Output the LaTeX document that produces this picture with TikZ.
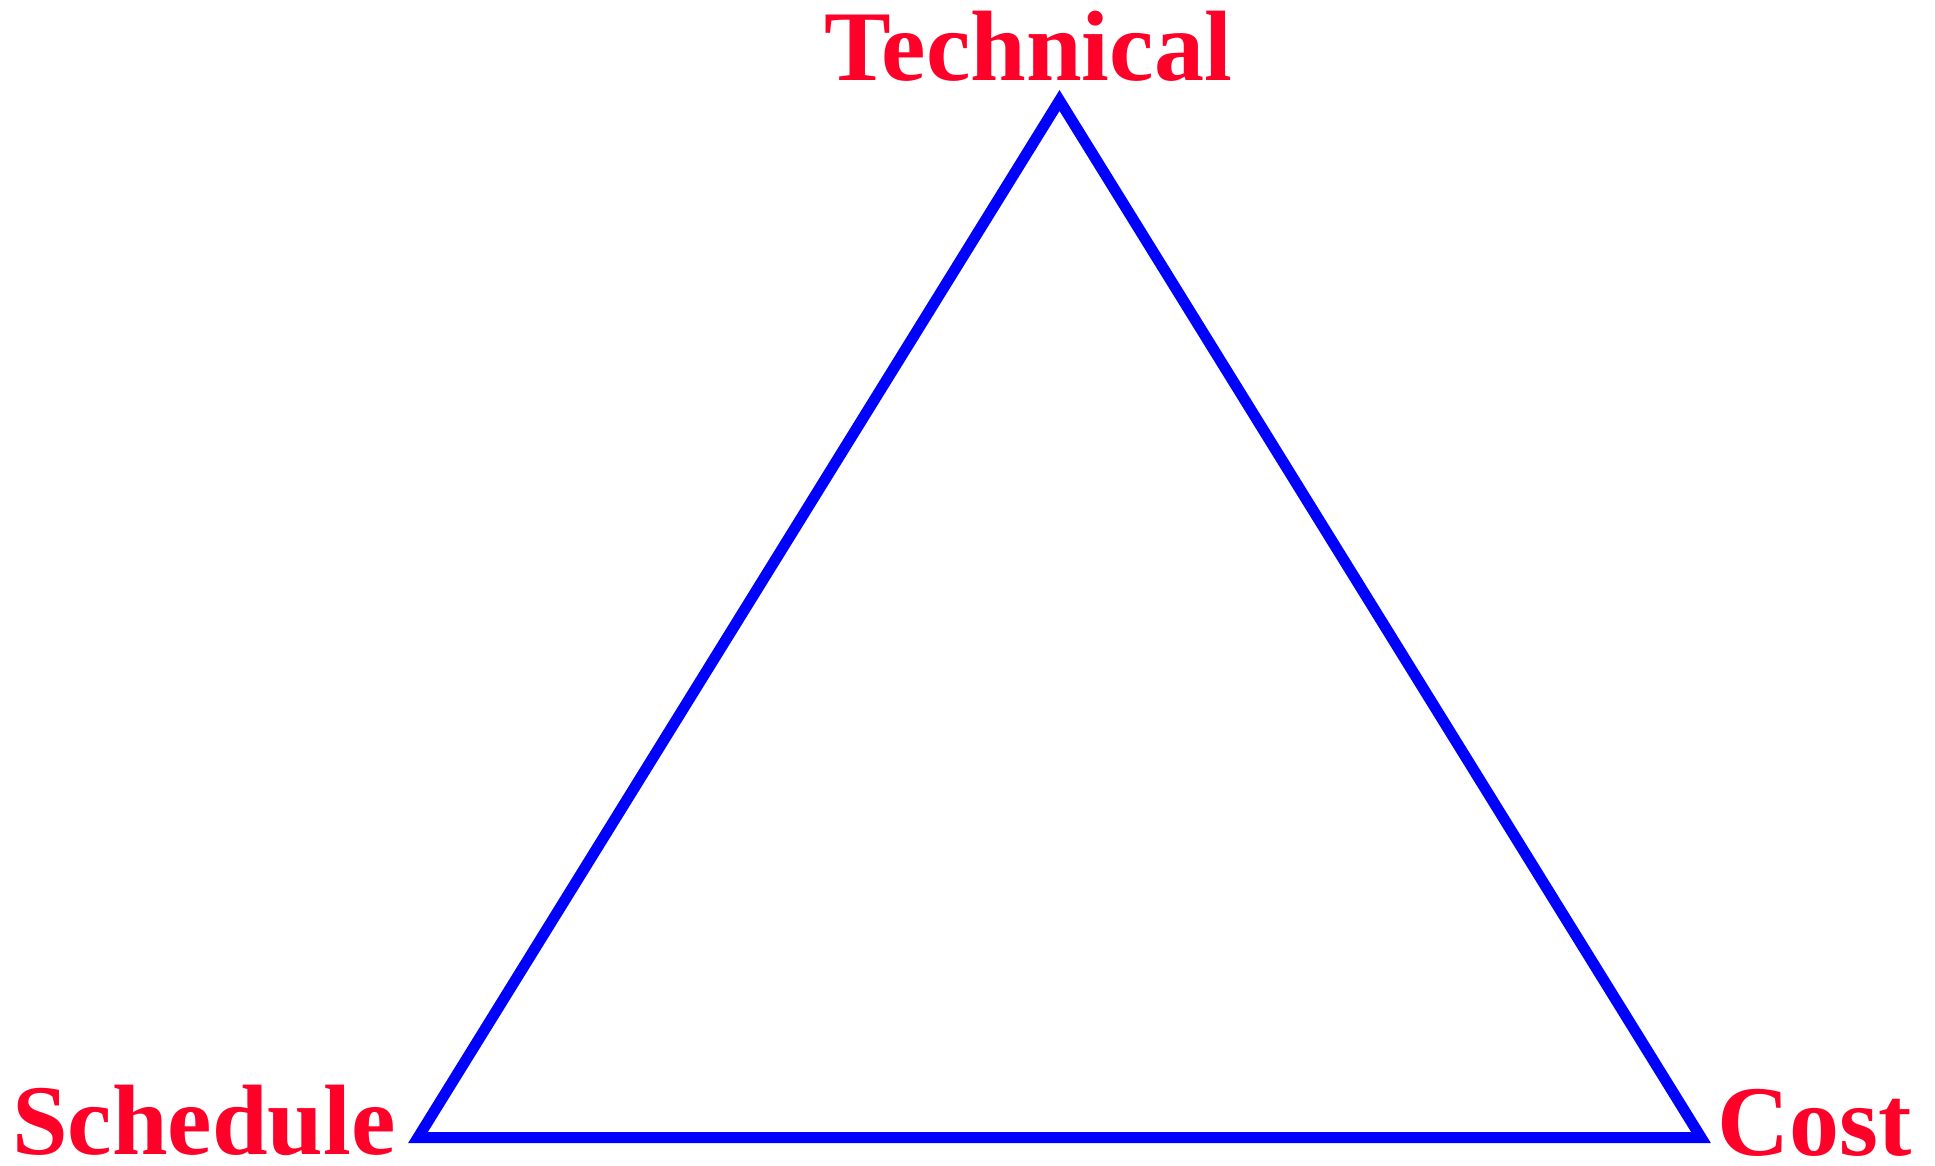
\documentclass[tikz,border=0pt]{standalone}
\usepackage{fontspec}
\setmainfont{Liberation Serif}
\definecolor{labelred}{RGB}{255,0,40}
\definecolor{triblue}{RGB}{0,0,255}
\tikzset{
  lbl/.style={inner sep=0pt, text=labelred, font=\fontsize{100}{100}\selectfont\bfseries, anchor=base west},
  tri/.style={draw=triblue, line width=11pt, line join=miter}
}
\begin{document}
\begin{tikzpicture}[x=1pt,y=-1pt]
\useasboundingbox (0,0) rectangle (1935,1165);
\coordinate (apex) at (1059.5,100.5);
\coordinate (bl) at (418,1137.5);
\coordinate (br) at (1701,1137.5);
\node[lbl] (technical) at (824,80) {Technical};
\node[lbl] (schedule) at (12,1154) {Schedule};
\node[lbl] (cost) at (1717,1155) {Cost};
\draw[tri] (apex) -- (bl) -- (br) -- cycle;
\end{tikzpicture}
\end{document}
